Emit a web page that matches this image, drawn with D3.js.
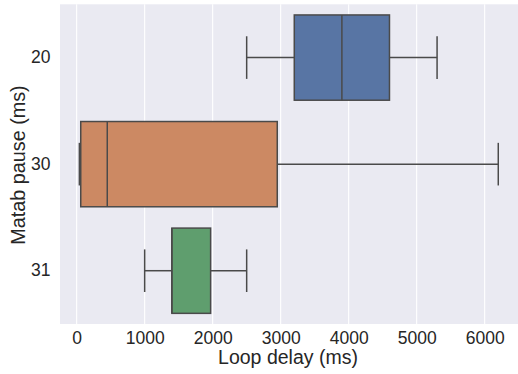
<!DOCTYPE html>
<html>
<head>
<meta charset="utf-8">
<script src="https://cdn.jsdelivr.net/npm/d3@7"></script>
<style>
  html, body { margin: 0; padding: 0; background: #fff; }
  svg { display: block; }
  text { font-family: "Liberation Sans", Arial, sans-serif; fill: #262626; }
</style>
</head>
<body>
<svg id="chart" width="518" height="374"></svg>
<script>
// Box summary per pause setting (loop delay in ms)
const categories = ["20", "30", "31"];
const whiskerLow = [2500, 40, 1000];
const q1 = [3200, 60, 1400];
const median = [3900, 450, 1400];
const q3 = [4600, 2950, 1970];
const whiskerHigh = [5300, 6200, 2500];
const colors = ["#5875A4", "#CC8963", "#5F9E6E"];
const xTicks = [0, 1000, 2000, 3000, 4000, 5000, 6000];

const svg = d3.select("#chart");
const plotLeft = 60, plotRight = 518, plotTop = 4.3, plotBottom = 324;

const x = d3.scaleLinear().domain([-245, 6490]).range([plotLeft, plotRight]);
const y = d3.scaleBand().domain(categories).range([plotTop, plotBottom]).paddingInner(0).paddingOuter(0);
const boxH = y.bandwidth() * 0.8;
const capH = boxH * 0.5;

// plot background
svg.append("rect")
  .attr("x", plotLeft).attr("y", plotTop)
  .attr("width", plotRight - plotLeft).attr("height", plotBottom - plotTop)
  .attr("fill", "#EAEAF2");

// vertical grid lines
svg.append("g").selectAll("line").data(xTicks).join("line")
  .attr("x1", d => x(d)).attr("x2", d => x(d))
  .attr("y1", plotTop).attr("y2", plotBottom)
  .attr("stroke", "#fff").attr("stroke-width", 1.1);

const lineColor = "#4a4a4a";
const g = svg.append("g");
categories.forEach((c, i) => {
  const cy = y(c) + y.bandwidth() / 2;
  // whiskers
  g.append("line")
    .attr("x1", x(whiskerLow[i])).attr("x2", x(q1[i]))
    .attr("y1", cy).attr("y2", cy)
    .attr("stroke", lineColor).attr("stroke-width", 1.5);
  g.append("line")
    .attr("x1", x(q3[i])).attr("x2", x(whiskerHigh[i]))
    .attr("y1", cy).attr("y2", cy)
    .attr("stroke", lineColor).attr("stroke-width", 1.5);
  // caps
  [whiskerLow[i], whiskerHigh[i]].forEach(v => {
    g.append("line")
      .attr("x1", x(v)).attr("x2", x(v))
      .attr("y1", cy - capH / 2).attr("y2", cy + capH / 2)
      .attr("stroke", lineColor).attr("stroke-width", 1.5);
  });
  // box
  g.append("rect")
    .attr("x", x(q1[i])).attr("y", cy - boxH / 2)
    .attr("width", x(q3[i]) - x(q1[i])).attr("height", boxH)
    .attr("fill", colors[i])
    .attr("stroke", lineColor).attr("stroke-width", 1.5);
  // median
  g.append("line")
    .attr("x1", x(median[i])).attr("x2", x(median[i]))
    .attr("y1", cy - boxH / 2).attr("y2", cy + boxH / 2)
    .attr("stroke", lineColor).attr("stroke-width", 1.5);
});

// x axis
const xAxis = svg.append("g")
  .attr("transform", `translate(0,${plotBottom})`)
  .call(d3.axisBottom(x).tickValues(xTicks).tickSize(0).tickPadding(8).tickFormat(d3.format("d")));
xAxis.select(".domain").remove();
xAxis.selectAll("text").attr("font-size", 17.5).style("font-family", "Liberation Sans, Arial, sans-serif").attr("fill", "#262626");

// y axis
const yAxis = svg.append("g")
  .attr("transform", `translate(${plotLeft},0)`)
  .call(d3.axisLeft(y).tickSize(0).tickPadding(9.5));
yAxis.select(".domain").remove();
yAxis.selectAll("text").attr("font-size", 17.5).style("font-family", "Liberation Sans, Arial, sans-serif").attr("fill", "#262626");

// axis titles
svg.append("text")
  .attr("x", 288).attr("y", 363.5)
  .attr("text-anchor", "middle").attr("font-size", 19.5)
  .text("Loop delay (ms)");
svg.append("text")
  .attr("transform", `translate(25,165) rotate(-90)`)
  .attr("text-anchor", "middle").attr("font-size", 19.8)
  .text("Matab pause (ms)");
</script>
</body>
</html>
